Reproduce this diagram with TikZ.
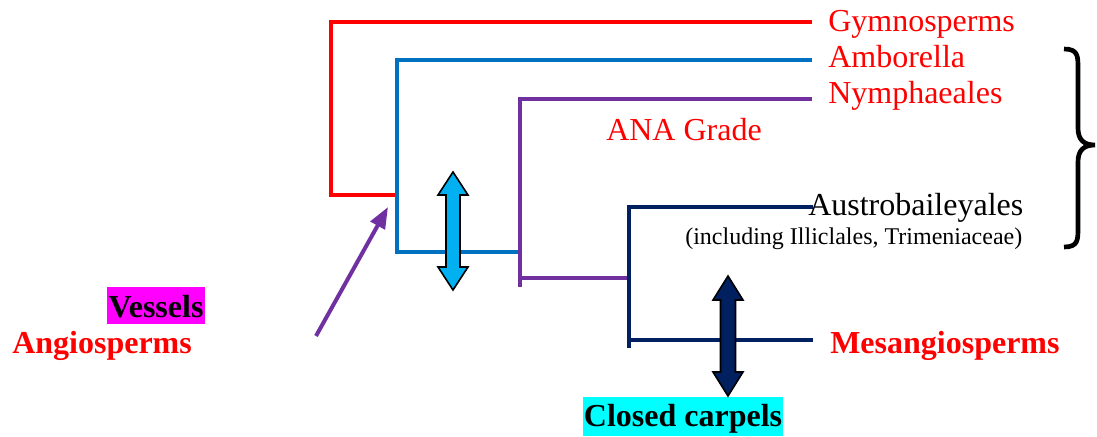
\documentclass[tikz,border=0pt]{standalone}
\usepackage{fontspec}
\setmainfont{Liberation Serif}
\usetikzlibrary{arrows.meta}
\definecolor{cred}{HTML}{FF0000}
\definecolor{cblue}{HTML}{0070C0}
\definecolor{cpurple}{HTML}{7030A0}
\definecolor{cnavy}{HTML}{002060}
\definecolor{carrowblue}{HTML}{00B0F0}
\definecolor{cmagenta}{HTML}{FF00FF}
\definecolor{ccyan}{HTML}{00FFFF}
\tikzset{
  lbl/.style={anchor=base west, inner sep=0pt, font=\fontsize{24}{28}\selectfont},
  blbl/.style={lbl, font=\fontsize{24}{28}\selectfont\bfseries},
  branch/.style={line width=3pt, line join=miter},
  dblarrow/.style={draw=black, line width=1.2pt, line join=miter},
}
\begin{document}
\begin{tikzpicture}[x=0.75pt,y=-0.75pt]
\useasboundingbox (0,0) rectangle (1097,436);
% labels
\node[lbl, text=cred] (gym) at (828,31) {Gymnosperms};
\node[lbl, text=cred] (amb) at (828,67) {Amborella};
\node[lbl, text=cred] (nym) at (828,103) {Nymphaeales};
\node[lbl, text=cred] (ana) at (606,140) {ANA Grade};
\node[lbl, text=black] (aus) at (808,215) {Austrobaileyales};
\node[anchor=base west, inner sep=0pt, font=\fontsize{18}{20}\selectfont] (incl) at (685,244) {(including Illiclales, Trimeniaceae)};
\node[blbl, text=cred] (mes) at (830,353) {Mesangiosperms};
\node[blbl, text=cred] (ang) at (12,353) {Angiosperms};
\node[blbl, fill=cmagenta, text height=22.5pt, text depth=5.25pt, inner xsep=1pt] (ves) at (107,317) {Vessels};
\node[blbl, fill=ccyan, text height=21.75pt, text depth=7.5pt, inner xsep=0.5pt] (car) at (583,426) {Closed carpels};
% tree coordinates
\coordinate (gymE) at (812,22);
\coordinate (ambE) at (812,60);
\coordinate (nymE) at (812,99);
\coordinate (ausE) at (813,207);
\coordinate (mesE) at (813,340);
% branches
\draw[branch, cred] (gymE) -- (331,22) -- (331,195) -- (397,195);
\draw[branch, cblue] (ambE) -- (397,60) -- (397,252) -- (520,252);
\draw[branch, cpurple] (nymE) -- (520,99) -- (520,287);
\draw[branch, cpurple] (520,278) -- (629,278);
\draw[branch, cnavy, line width=2.6pt] (ausE) -- (629,207) -- (629,348);
\draw[branch, cnavy, line width=2.6pt] (629,340) -- (mesE);
% purple arrow
\coordinate (arrS) at (316,336);
\coordinate (arrE) at (388,207);
\draw[cpurple, line width=3pt, -{Triangle[length=16pt,width=12pt]}] (arrS) -- (arrE);
% blue double arrow
\filldraw[dblarrow, fill=carrowblue] (453,172) -- (468,195) -- (460,195) -- (460,267) -- (468,267) -- (453,290) -- (438,267) -- (446,267) -- (446,195) -- (438,195) -- cycle;
% navy double arrow
\filldraw[dblarrow, fill=cnavy] (728,276) -- (743,300) -- (735.5,300) -- (735.5,372) -- (743,372) -- (728,396) -- (713,372) -- (720.5,372) -- (720.5,300) -- (713,300) -- cycle;
% brace
\draw[line width=3.5pt] (1064,49) .. controls (1078,49) and (1078,56) .. (1078,68) -- (1078,128) .. controls (1078,140) and (1084,145) .. (1095,145) .. controls (1084,145) and (1078,150) .. (1078,162) -- (1078,228) .. controls (1078,240) and (1078,247) .. (1064,247);
\end{tikzpicture}
\end{document}
